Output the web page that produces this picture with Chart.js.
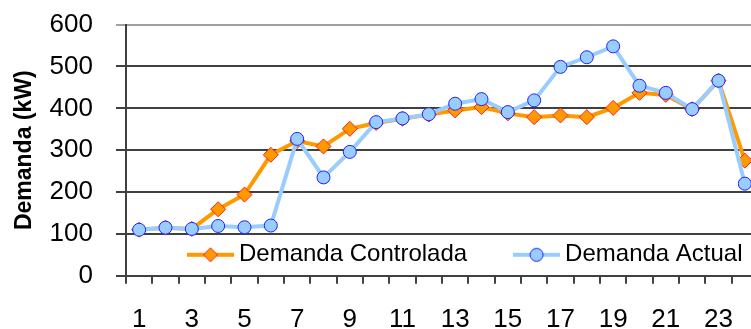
<!DOCTYPE html>
<html>
<head>
<meta charset="utf-8">
<title>Demanda horaria</title>
<script src="https://cdn.jsdelivr.net/npm/chart.js@4/dist/chart.umd.min.js"></script>
<style>
  html, body { margin: 0; padding: 0; background: #fff; overflow: hidden; }
  #wrap { position: absolute; left: 0; top: -14px; width: 770px; height: 371px; }
</style>
</head>
<body>
<div id="wrap"><canvas id="c" width="770" height="371"></canvas></div>
<script>
// Hours of the day (categories)
const hours = ['1','2','3','4','5','6','7','8','9','10','11','12',
               '13','14','15','16','17','18','19','20','21','22','23','24'];

// Only odd hours are labelled on the axis
const shownHours = ['1','3','5','7','9','11','13','15','17','19','21','23'];

// Demand with control (kW)
const demandaControlada = [110, 115, 112, 159, 194, 289, 322, 309, 351, 365, 375, 385,
                           395, 403, 388, 379, 383, 379, 401, 437, 432, 398, 466, 275];

// Actual demand (kW)
const demandaActual = [110, 115, 112, 119, 116, 120, 327, 235, 296, 367, 376, 386,
                       411, 422, 391, 419, 499, 522, 548, 454, 437, 398, 466, 220];

// Value axis ticks (kW)
const yTicks = [0, 100, 200, 300, 400, 500, 600];

const FONT = "'Liberation Sans', Arial, sans-serif";

// Small legend swatch: line segment with the series marker in the middle
function swatch(lineColor, shape, fill, stroke, r) {
  const cv = document.createElement('canvas');
  cv.width = 47; cv.height = 18;
  const g = cv.getContext('2d');
  const cy = cv.height / 2, cx = cv.width / 2;
  g.strokeStyle = lineColor;
  g.lineWidth = 4;
  g.beginPath(); g.moveTo(0, cy); g.lineTo(cv.width, cy); g.stroke();
  g.beginPath();
  if (shape === 'diamond') {
    g.moveTo(cx, cy - r); g.lineTo(cx + r, cy); g.lineTo(cx, cy + r); g.lineTo(cx - r, cy); g.closePath();
  } else {
    g.arc(cx, cy, r, 0, Math.PI * 2);
  }
  g.fillStyle = fill; g.fill();
  g.lineWidth = 1; g.strokeStyle = stroke; g.stroke();
  return cv;
}

const swatchControlada = swatch('#FF9900', 'diamond', '#FF9900', '#FF2020', 7);
const swatchActual = swatch('#99CCFF', 'circle', '#99CCFF', '#2020FF', 6.5);

// Places the legend inside the plot area, just above the category axis
const legendInside = {
  id: 'legendInside',
  afterLayout(chart) {
    const lg = chart.legend;
    const ca = chart.chartArea;
    const pad = lg.options.labels.padding;
    lg.left = ca.left + 68 - pad;
    lg.right = 1200;
    lg.width = lg.right - lg.left;
    lg.top = ca.bottom - 21 - 12 - pad;
    lg.bottom = ca.bottom;
    lg.height = lg.bottom - lg.top;
  }
};

new Chart(document.getElementById('c'), {
  type: 'line',
  data: {
    labels: hours,
    datasets: [
      {
        label: 'Demanda Actual',
        data: demandaActual,
        borderColor: '#99CCFF',
        backgroundColor: '#99CCFF',
        borderWidth: 4,
        tension: 0,
        pointStyle: 'circle',
        pointRadius: 6.5,
        pointBackgroundColor: '#99CCFF',
        pointBorderColor: '#2020FF',
        pointBorderWidth: 1
      },
      {
        label: 'Demanda Controlada',
        data: demandaControlada,
        borderColor: '#FF9900',
        backgroundColor: '#FF9900',
        borderWidth: 4,
        tension: 0,
        pointStyle: 'rectRot',
        pointRadius: 7.5,
        pointBackgroundColor: '#FF9900',
        pointBorderColor: '#FF2020',
        pointBorderWidth: 1
      }
    ]
  },
  options: {
    responsive: false,
    animation: false,
    events: [],
    layout: { padding: { left: 6, right: 12, top: 25, bottom: 1 } },
    plugins: {
      tooltip: { enabled: false },
      legend: {
        position: 'bottom',
        align: 'start',
        maxHeight: 1,
        labels: {
          usePointStyle: true,
          pointStyleWidth: 33,
          padding: 53,
          color: '#000',
          font: { family: FONT, size: 24 },
          generateLabels(chart) {
            const ds = chart.data.datasets;
            return [
              { text: ds[1].label, pointStyle: swatchControlada, datasetIndex: 1, lineWidth: 0, strokeStyle: 'transparent', fillStyle: 'transparent', fontColor: '#000' },
              { text: ds[0].label, pointStyle: swatchActual, datasetIndex: 0, lineWidth: 0, strokeStyle: 'transparent', fillStyle: 'transparent', fontColor: '#000' }
            ];
          }
        }
      }
    },
    scales: {
      x: {
        offset: true,
        grid: {
          offset: true,
          drawOnChartArea: false,
          drawTicks: true,
          tickLength: 8,
          color: '#404040',
          lineWidth: 2
        },
        border: { color: '#404040', width: 2 },
        ticks: {
          autoSkip: false,
          maxRotation: 0,
          padding: 20,
          color: '#000',
          font: { family: FONT, size: 26 },
          callback(value, index) {
            const h = hours[index];
            return shownHours.includes(h) ? h : '';
          }
        }
      },
      y: {
        min: yTicks[0],
        max: yTicks[yTicks.length - 1],
        afterBuildTicks(axis) { axis.ticks = yTicks.map(v => ({ value: v })); },
        grid: {
          tickLength: 10,
          lineWidth: 2,
          color(ctx) { return ctx.tick && ctx.tick.value === 600 ? '#A0A0A0' : '#404040'; }
        },
        border: { color: '#404040', width: 2 },
        ticks: {
          padding: 23,
          color: '#000',
          font: { family: FONT, size: 26 }
        },
        title: {
          display: true,
          text: 'Demanda (kW)',
          color: '#000',
          font: { family: FONT, size: 23, weight: 'bold' },
          padding: { top: 5, bottom: -12 }
        }
      }
    }
  },
  plugins: [legendInside]
});
</script>
</body>
</html>
